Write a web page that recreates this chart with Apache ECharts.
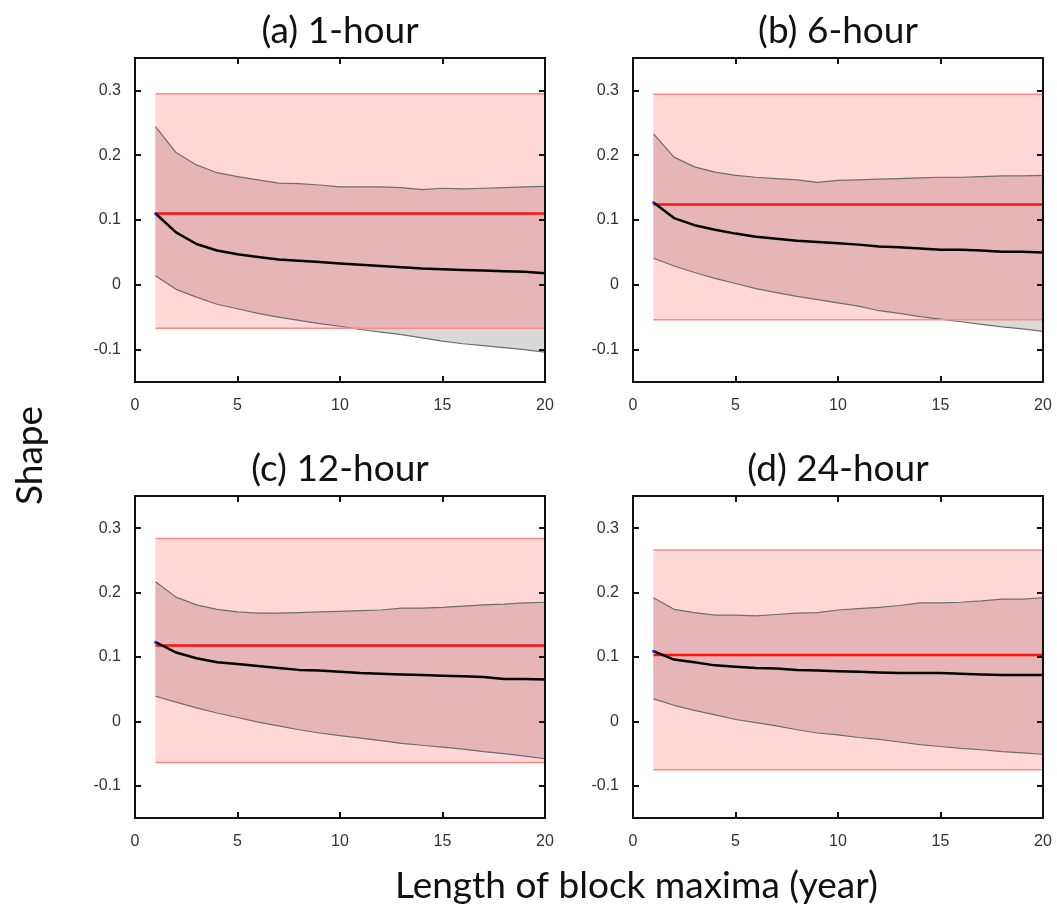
<!DOCTYPE html>
<html>
<head>
<meta charset="utf-8">
<script src="https://cdn.jsdelivr.net/npm/echarts@6/dist/echarts.min.js"></script>
<style>
html,body{margin:0;padding:0;background:#fff;}
#chart{width:1057px;height:921px;}
</style>
</head>
<body>
<div id="chart"></div>
<script>
// ---------------- DATA ----------------
const years = [1,2,3,4,5,6,7,8,9,10,11,12,13,14,15,16,17,18,19,20];
const panelTitles = ['(a) 1-hour', '(b) 6-hour', '(c) 12-hour', '(d) 24-hour'];
const xTicks = [0, 5, 10, 15, 20];
const yTicks = [-0.1, 0, 0.1, 0.2, 0.3];

// constant reference band (pink) and reference shape (red)
const pinkHi = [0.295, 0.294, 0.284, 0.266];
const pinkLo = [-0.067, -0.054, -0.064, -0.075];
const refShape = [0.110, 0.124, 0.118, 0.103];

// (a) 1-hour
const upperA  = [0.244,0.204,0.185,0.173,0.167,0.162,0.157,0.156,0.154,0.151,0.151,0.151,0.150,0.147,0.149,0.148,0.149,0.150,0.151,0.152];
const medianA = [0.110,0.081,0.063,0.053,0.047,0.043,0.039,0.037,0.035,0.033,0.031,0.029,0.027,0.025,0.024,0.023,0.022,0.021,0.020,0.018];
const lowerA  = [0.014,-0.007,-0.019,-0.030,-0.037,-0.044,-0.050,-0.055,-0.060,-0.064,-0.069,-0.073,-0.077,-0.082,-0.087,-0.091,-0.094,-0.097,-0.100,-0.104];
// (b) 6-hour
const upperB  = [0.233,0.197,0.182,0.174,0.169,0.166,0.164,0.162,0.158,0.161,0.162,0.163,0.164,0.165,0.166,0.166,0.167,0.168,0.168,0.169];
const medianB = [0.127,0.103,0.092,0.085,0.079,0.074,0.071,0.068,0.066,0.064,0.062,0.059,0.058,0.056,0.054,0.054,0.053,0.051,0.051,0.050];
const lowerB  = [0.041,0.029,0.019,0.010,0.002,-0.006,-0.012,-0.018,-0.023,-0.028,-0.033,-0.040,-0.044,-0.049,-0.053,-0.057,-0.061,-0.065,-0.068,-0.072];
// (c) 12-hour
const upperC  = [0.217,0.193,0.181,0.174,0.170,0.168,0.168,0.169,0.170,0.171,0.172,0.173,0.176,0.176,0.177,0.179,0.181,0.182,0.184,0.185];
const medianC = [0.123,0.107,0.098,0.092,0.089,0.086,0.083,0.080,0.079,0.077,0.075,0.074,0.073,0.072,0.071,0.070,0.069,0.066,0.066,0.065];
const lowerC  = [0.039,0.030,0.021,0.013,0.006,-0.001,-0.007,-0.013,-0.018,-0.022,-0.026,-0.030,-0.034,-0.037,-0.040,-0.043,-0.047,-0.050,-0.054,-0.058];
// (d) 24-hour
const upperD  = [0.192,0.174,0.169,0.165,0.165,0.164,0.166,0.168,0.169,0.173,0.175,0.177,0.180,0.184,0.184,0.185,0.187,0.190,0.190,0.192];
const medianD = [0.109,0.096,0.092,0.087,0.085,0.083,0.082,0.080,0.079,0.078,0.077,0.076,0.075,0.075,0.075,0.074,0.073,0.072,0.072,0.072];
const lowerD  = [0.035,0.025,0.017,0.010,0.003,-0.002,-0.007,-0.013,-0.018,-0.021,-0.025,-0.028,-0.032,-0.036,-0.039,-0.042,-0.044,-0.047,-0.049,-0.051];

const uppers  = [upperA, upperB, upperC, upperD];
const medians = [medianA, medianB, medianC, medianD];
const lowers  = [lowerA, lowerB, lowerC, lowerD];

// ---------------- LAYOUT / STYLE ----------------
const grids = [
  {left:135, top:58,  width:410, height:324},
  {left:633, top:58,  width:410, height:324},
  {left:135, top:496, width:410, height:322},
  {left:633, top:496, width:410, height:322}
];
const FONT = 'Lato';
const TICKFONT = 'Liberation Sans';
const PINK = '#ffd7d7';
const PINK_EDGE = '#ff8888';
const GRAY = '#d9d9d9';
const OVERLAP = '#e6b5b8';

function clampPath(xs, ys, lo, hi) {
  const out = [];
  const cl = v => Math.min(Math.max(v, lo), hi);
  for (let k = 0; k < xs.length; k++) {
    out.push([xs[k], cl(ys[k])]);
    if (k < xs.length - 1) {
      const cr = [];
      [lo, hi].forEach(b => {
        if ((ys[k] - b) * (ys[k + 1] - b) < 0) {
          const t = (b - ys[k]) / (ys[k + 1] - ys[k]);
          cr.push([t, [xs[k] + t * (xs[k + 1] - xs[k]), b]]);
        }
      });
      cr.sort((a, b) => a[0] - b[0]).forEach(c => out.push(c[1]));
    }
  }
  return out;
}

const option = {
  animation: false,
  backgroundColor: '#fff',
  title: [],
  grid: grids.map(g => Object.assign({containLabel:false, show:false}, g)),
  xAxis: [],
  yAxis: [],
  series: [],
  graphic: [
    {type:'text', left:395, top:868, style:{text:'Length of block maxima (year)', font:'37px ' + FONT, fill:'#111'}},
    {type:'text', rotation:Math.PI/2, x:12, y:505, style:{text:'Shape', font:'37px ' + FONT, fill:'#111', textAlign:'left', textVerticalAlign:'top'}}
  ]
};

grids.forEach((g, i) => {
  option.title.push({
    text: panelTitles[i],
    left: g.left + g.width / 2 - 5,
    top: g.top - 50,
    textAlign: 'center',
    textStyle: {fontFamily: FONT, fontSize: 37, fontWeight: 'normal', color: '#111'}
  });
  const mkLine = () => ({show:true, onZero:false, lineStyle:{color:'#111', width:2}});
  const mkTick = (extra) => Object.assign({show:true, inside:true, length:6, lineStyle:{color:'#111', width:2}}, extra || {});
  // bottom x
  option.xAxis.push({
    type:'value', gridIndex:i, min:0, max:20, interval:5, position:'bottom', z:20,
    axisLine:mkLine(), axisTick:mkTick({customValues:xTicks}), splitLine:{show:false},
    axisLabel:{show:true, customValues:xTicks, margin:16, fontFamily:TICKFONT, fontSize:16, color:'#333'}
  });
  // top x
  option.xAxis.push({
    type:'value', gridIndex:i, min:0, max:20, interval:5, position:'top', z:20,
    axisLine:mkLine(), axisTick:mkTick({customValues:xTicks}), splitLine:{show:false}, axisLabel:{show:false}
  });
  // left y
  option.yAxis.push({
    type:'value', gridIndex:i, min:-0.15, max:0.35, interval:0.05, position:'left', z:20,
    axisLine:mkLine(), axisTick:mkTick({customValues:yTicks}), splitLine:{show:false},
    axisLabel:{show:true, customValues:yTicks, margin:14, fontFamily:TICKFONT, fontSize:16, color:'#333',
      formatter: v => (Math.abs(v) < 1e-9 ? '0' : (+v.toFixed(2)).toString())}
  });
  // right y
  option.yAxis.push({
    type:'value', gridIndex:i, min:-0.15, max:0.35, interval:0.05, position:'right', z:20,
    axisLine:mkLine(), axisTick:mkTick({customValues:yTicks}), splitLine:{show:false}, axisLabel:{show:false}
  });

  const xi = i * 2, yi = i * 2;
  const up = uppers[i], lo = lowers[i], md = medians[i];
  const hi = pinkHi[i], lw = pinkLo[i];

  // pink reference band
  option.series.push({
    type:'custom', xAxisIndex:xi, yAxisIndex:yi, z:1, silent:true, clip:false,
    data:[[years[0], lw]],
    renderItem: (params, api) => {
      const p1 = api.coord([years[0], hi]);
      const p2 = api.coord([years[years.length - 1], lw]);
      return {type:'rect', shape:{x:p1[0], y:p1[1], width:p2[0]-p1[0], height:p2[1]-p1[1]}, style:{fill:PINK}};
    }
  });
  // gray uncertainty band
  option.series.push({
    type:'custom', xAxisIndex:xi, yAxisIndex:yi, z:2, silent:true, clip:false,
    data:[[years[0], lo[0]]],
    renderItem: (params, api) => {
      const pts = [];
      years.forEach((x, k) => pts.push(api.coord([x, up[k]])));
      for (let k = years.length - 1; k >= 0; k--) pts.push(api.coord([years[k], lo[k]]));
      return {type:'polygon', shape:{points:pts}, style:{fill:GRAY}};
    }
  });
  // overlap of gray band and pink band
  option.series.push({
    type:'custom', xAxisIndex:xi, yAxisIndex:yi, z:3, silent:true, clip:false,
    data:[[years[0], lo[0]]],
    renderItem: (params, api) => {
      const top = clampPath(years, up, lw, hi);
      const bot = clampPath(years, lo, lw, hi).reverse();
      const pts = top.concat(bot).map(p => api.coord(p));
      return {type:'polygon', shape:{points:pts}, style:{fill:OVERLAP}};
    }
  });
  // pink edges
  [hi, lw].forEach(v => {
    option.series.push({
      type:'line', xAxisIndex:xi, yAxisIndex:yi, z:5, silent:true, symbol:'none',
      data:[[years[0], v], [years[years.length - 1], v]],
      lineStyle:{color:PINK_EDGE, width:1.5}
    });
  });
  // gray band edges
  [up, lo].forEach(arr => {
    option.series.push({
      type:'line', xAxisIndex:xi, yAxisIndex:yi, z:4, silent:true, symbol:'none',
      data: years.map((x, k) => [x, arr[k]]),
      lineStyle:{color:'#6e6e6e', width:1.2}
    });
  });
  // red reference shape
  option.series.push({
    type:'line', xAxisIndex:xi, yAxisIndex:yi, z:6, silent:true, symbol:'none',
    data:[[years[0], refShape[i]], [years[years.length - 1], refShape[i]]],
    lineStyle:{color:'#ff1010', width:2.5}
  });
  // median shape
  option.series.push({
    type:'line', xAxisIndex:xi, yAxisIndex:yi, z:7, silent:true, symbol:'none',
    data: years.map((x, k) => [x, md[k]]),
    lineStyle:{color:'#000', width:2.5}
  });
  // blue start marker
  option.series.push({
    type:'scatter', xAxisIndex:xi, yAxisIndex:yi, z:8, silent:true, symbolSize:3,
    data:[[years[0], md[0]]], itemStyle:{color:'#2020ff'}
  });
});

const chart = echarts.init(document.getElementById('chart'), null, {renderer:'canvas'});
chart.setOption(option);
</script>
</body>
</html>
